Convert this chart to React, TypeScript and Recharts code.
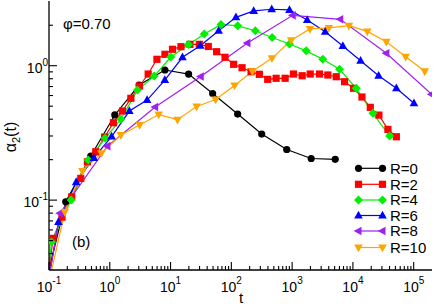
import { LineChart, Line, XAxis, YAxis } from 'recharts';

const W = 436;
const H = 306;
const FONT = '"Liberation Sans", Arial, Helvetica, sans-serif';

// alpha_2(t); the first point of each series sits just left of the frame
const tR0 = [0.09, 0.1885, 0.487, 1.21, 3.04, 8.07, 19.8, 49.2, 127, 316, 815, 2058, 5117];
const aR0 = [0.025, 0.0971, 0.213, 0.43, 0.718, 0.929, 0.867, 0.621, 0.437, 0.31, 0.238, 0.204, 0.201];

const tR2 = [0.09, 0.1164, 0.1637, 0.2367, 0.333, 0.428, 0.588, 0.822, 1.148, 1.615, 2.222, 3.078, 4.283, 5.961, 8.074, 10.77, 14.82, 20.85, 29.68, 41.76, 57.24, 78.7, 109.1, 150.1, 211.2, 289.3, 396.5, 545.3, 767.4, 1051, 1463, 1982, 2820, 3865, 5316, 7285, 10250, 14100, 19320, 26780, 37680, 51820];
const aR2 = [0.02, 0.0519, 0.0747, 0.1058, 0.145, 0.1928, 0.2289, 0.2944, 0.3763, 0.46, 0.572, 0.706, 0.867, 1.116, 1.216, 1.325, 1.385, 1.443, 1.443, 1.39, 1.271, 1.155, 1.024, 0.966, 0.902, 0.863, 0.792, 0.806, 0.806, 0.867, 0.842, 0.867, 0.867, 0.853, 0.828, 0.76, 0.679, 0.585, 0.49, 0.429, 0.336, 0.296];

const tR4 = [0.09, 0.11, 0.231, 0.442, 0.837, 1.52, 2.85, 5.38, 10.1, 19.8, 35.9, 67.6, 127, 248, 469, 904, 1703, 3200, 6030, 11350, 21330, 40180];
const aR4 = [0.02, 0.0487, 0.1, 0.199, 0.288, 0.399, 0.659, 0.838, 1.16, 1.44, 1.72, 2.03, 1.98, 1.82, 1.62, 1.45, 1.29, 1.116, 0.94, 0.679, 0.442, 0.3];

const tR6 = [0.09, 0.143, 0.28, 0.547, 1.07, 2.1, 4.11, 8.04, 15.7, 30.8, 61.8, 119, 233, 461, 904, 1770, 3500, 6830, 13370, 26480, 51850, 101000];
const aR6 = [0.02, 0.0686, 0.136, 0.206, 0.297, 0.46, 0.555, 0.782, 1.155, 1.41, 1.82, 2.29, 2.555, 2.63, 2.6, 2.19, 1.79, 1.4, 1.09, 0.842, 0.679, 0.525];

const tR8 = [0.09, 0.152, 0.914, 5.59, 31.4, 184, 1023, 6190, 35480, 197700];
const aR8 = [0.02, 0.08, 0.252, 0.493, 0.831, 1.476, 2.37, 2.215, 1.237, 0.612];

const tR10 = [0.09, 0.182, 0.354, 0.728, 1.52, 3.1, 6.38, 13, 26.8, 55.1, 113, 222, 465, 963, 1966, 4018, 8580, 17250, 35480, 73800, 151700];
const aR10 = [0.02, 0.0818, 0.165, 0.223, 0.305, 0.362, 0.433, 0.397, 0.497, 0.56, 0.712, 0.908, 1.135, 1.545, 1.877, 1.91, 1.985, 1.8, 1.51, 1.167, 0.908];

const names = ['R=0', 'R=2', 'R=4', 'R=6', 'R=8', 'R=10'];
const colors = ['#000000', '#ff0000', '#00f000', '#0000ff', '#a020f0', '#ffa500'];
const shapes = ['circle', 'square', 'diamond', 'up', 'left', 'down'];

const xMajor = [0.1, 1, 10, 100, 1000, 10000, 100000];
const yMajor = [0.01, 0.1, 1];
const mult = [1, 2, 3, 4, 5, 6, 7, 8, 9];

const xTicks = xMajor.flatMap((d) => mult.map((m) => m * d)).filter((v) => v < 1.9e5);
const yTicks = yMajor.flatMap((d) => mult.map((m) => m * d)).filter((v) => v > 0.031 && v < 2.9);

const toRows = (t: number[], a: number[]) => t.map((tt, i) => ({ t: tt, a: a[i] }));
const series = [
  toRows(tR0, aR0),
  toRows(tR2, aR2),
  toRows(tR4, aR4),
  toRows(tR6, aR6),
  toRows(tR8, aR8),
  toRows(tR10, aR10),
].map((data, i) => ({ data, name: names[i], color: colors[i], shape: shapes[i] }));

const isMajor = (v: number) => Math.abs(Math.log10(v) - Math.round(Math.log10(v))) < 1e-6;
const expo = (v: number) => Math.round(Math.log10(v));

function Marker({ shape, x, y, color }: { shape: string; x: number; y: number; color: string }) {
  if (!Number.isFinite(x) || !Number.isFinite(y)) return null;
  switch (shape) {
    case 'circle':
      return <circle cx={x} cy={y} r={3.6} fill={color} />;
    case 'square':
      return <rect x={x - 3.6} y={y - 3.6} width={7.2} height={7.2} fill={color} />;
    case 'diamond':
      return <polygon points={`${x},${y - 4.5} ${x + 4.5},${y} ${x},${y + 4.5} ${x - 4.5},${y}`} fill={color} />;
    case 'up':
      return <polygon points={`${x},${y - 4.8} ${x + 4.3},${y + 3} ${x - 4.3},${y + 3}`} fill={color} />;
    case 'left':
      return <polygon points={`${x - 4.8},${y} ${x + 3},${y - 4.3} ${x + 3},${y + 4.3}`} fill={color} />;
    default:
      return <polygon points={`${x},${y + 4.8} ${x + 4.3},${y - 3} ${x - 4.3},${y - 3}`} fill={color} />;
  }
}

function BottomTick(props: any) {
  const { x, y, payload } = props;
  const v = payload.value;
  const major = isMajor(v);
  return (
    <g>
      <line x1={x} x2={x} y1={y} y2={y - (major ? 8 : 4)} stroke="#000" strokeWidth={1.1} />
      {major && (
        <text x={x} y={y + 21.5} textAnchor="middle" fontSize={14} fontFamily={FONT} fill="#000">
          10<tspan dy={-7.5} fontSize={10}>{expo(v)}</tspan>
        </text>
      )}
    </g>
  );
}

function TopTick(props: any) {
  const { x, y, payload } = props;
  const major = isMajor(payload.value);
  return <line x1={x} x2={x} y1={y} y2={y + (major ? 8 : 4)} stroke="#000" strokeWidth={1.1} />;
}

function LeftTick(props: any) {
  const { x, y, payload } = props;
  const v = payload.value;
  const major = isMajor(v);
  return (
    <g>
      <line x1={x} x2={x + (major ? 8 : 4)} y1={y} y2={y} stroke="#000" strokeWidth={1.1} />
      {major && (
        <text x={x - 1} y={y + 7} textAnchor="end" fontSize={14} fontFamily={FONT} fill="#000">
          10<tspan dy={-7} fontSize={10}>{expo(v)}</tspan>
        </text>
      )}
    </g>
  );
}

function RightTick(props: any) {
  const { x, y, payload } = props;
  const major = isMajor(payload.value);
  return <line x1={x} x2={x - (major ? 8 : 4)} y1={y} y2={y} stroke="#000" strokeWidth={1.1} />;
}

const axisLine = { stroke: '#000', strokeWidth: 1.3 };
const legendRows = [168.3, 184.3, 200, 215.5, 231, 247.5];

export default function App() {
  return (
    <div style={{ position: 'absolute', left: 0, top: 0, width: W, height: H, background: '#fff' }}>
      <LineChart width={W} height={H} margin={{ top: 1, right: 4, bottom: 0, left: 0 }}>
        <XAxis
          xAxisId="b"
          dataKey="t"
          type="number"
          scale="log"
          domain={[0.1, 2e5]}
          allowDataOverflow
          ticks={xTicks}
          interval={0}
          tickSize={0}
          tickMargin={0}
          tickLine={false}
          height={36}
          axisLine={axisLine}
          tick={BottomTick}
        />
        <XAxis
          xAxisId="top"
          orientation="top"
          dataKey="t"
          type="number"
          scale="log"
          domain={[0.1, 2e5]}
          allowDataOverflow
          ticks={xTicks}
          interval={0}
          tickSize={0}
          tickMargin={0}
          tickLine={false}
          height={0}
          axisLine={axisLine}
          tick={TopTick}
        />
        <YAxis
          yAxisId="l"
          type="number"
          scale="log"
          domain={[0.0302, 3.03]}
          allowDataOverflow
          ticks={yTicks}
          interval={0}
          tickSize={0}
          tickMargin={0}
          tickLine={false}
          width={49}
          axisLine={axisLine}
          tick={LeftTick}
        />
        <YAxis
          yAxisId="r"
          orientation="right"
          type="number"
          scale="log"
          domain={[0.0302, 3.03]}
          allowDataOverflow
          ticks={yTicks}
          interval={0}
          tickSize={0}
          tickMargin={0}
          tickLine={false}
          width={0}
          axisLine={axisLine}
          tick={RightTick}
        />
        {series.map((s) => (
          <Line
            key={s.name}
            xAxisId="b"
            yAxisId="l"
            data={s.data}
            dataKey="a"
            name={s.name}
            stroke={s.color}
            strokeWidth={1.2}
            isAnimationActive={false}
            activeDot={false}
            dot={(p: any) => (
              <Marker key={`${s.name}-${p.index}`} shape={s.shape} x={p.cx} y={p.cy} color={s.color} />
            )}
          />
        ))}
      </LineChart>
      <svg
        width={W}
        height={H}
        style={{ position: 'absolute', left: 0, top: 0, pointerEvents: 'none' }}
        fontFamily={FONT}
      >
        <text x={63} y={28.5} fontSize={15} fill="#000">φ=0.70</text>
        <text x={72} y={247} fontSize={15} fill="#000">(b)</text>
        <text x={241} y={303} fontSize={15} textAnchor="middle" fill="#000">t</text>
        <text transform="translate(16,137) rotate(-90)" fontSize={16} textAnchor="middle" fill="#000">
          α<tspan fontSize={11} dy={4}>2</tspan><tspan dy={-4}>(t)</tspan>
        </text>
        {series.map((s, i) => (
          <g key={s.name}>
            <line x1={358.5} x2={382.5} y1={legendRows[i]} y2={legendRows[i]} stroke={s.color} strokeWidth={1.2} />
            <Marker shape={s.shape} x={358.5} y={legendRows[i]} color={s.color} />
            <Marker shape={s.shape} x={382.5} y={legendRows[i]} color={s.color} />
            <text x={390} y={legendRows[i] + 5.3} fontSize={15} fill="#000">{s.name}</text>
          </g>
        ))}
      </svg>
    </div>
  );
}
